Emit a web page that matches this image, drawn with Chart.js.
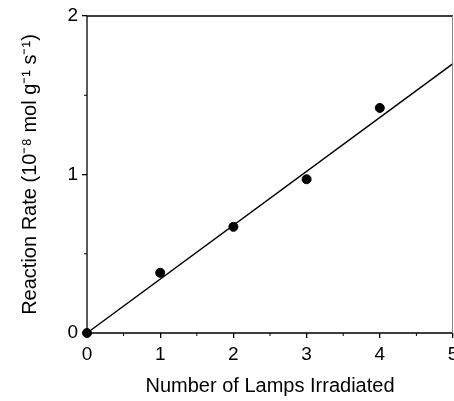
<!DOCTYPE html>
<html>
<head>
<meta charset="utf-8">
<script src="https://cdn.jsdelivr.net/npm/chart.js@4"></script>
<style>
  html, body { margin: 0; padding: 0; background: #fff; }
  #wrap { width: 454px; height: 401px; }
</style>
</head>
<body>
<div id="wrap"><canvas id="myChart" width="454" height="401"></canvas></div>
<script>
// data
const lamps = [0, 1, 2, 3, 4];
const rates = [0, 0.38, 0.67, 0.97, 1.42];
const fitX = [0, 5];
const fitY = [0, 1.70];
const xTitle = 'Number of Lamps Irradiated';
const yTitle = 'Reaction Rate (10\u207B\u2078 mol g\u207B\u00B9 s\u207B\u00B9)';

const font = 'Liberation Sans, Arial, Helvetica, sans-serif';

// minor ticks + frame
const framePlugin = {
  id: 'frame',
  afterDraw(chart) {
    const ctx = chart.ctx;
    const a = chart.chartArea;
    const xs = chart.scales.x, ys = chart.scales.y;
    ctx.save();
    ctx.strokeStyle = '#000';
    ctx.lineWidth = 1.3;
    ctx.beginPath();
    ctx.moveTo(a.left, a.bottom); ctx.lineTo(a.right, a.bottom);
    ctx.moveTo(a.left, a.bottom); ctx.lineTo(a.left, a.top);
    ctx.moveTo(a.left, a.top); ctx.lineTo(a.right, a.top);
    ctx.stroke();
    ctx.strokeStyle = '#888';
    ctx.lineWidth = 1;
    ctx.beginPath();
    ctx.moveTo(a.right - 0.5, a.top); ctx.lineTo(a.right - 0.5, a.bottom);
    ctx.stroke();
    ctx.strokeStyle = '#000';
    ctx.beginPath();
    for (let v = 0.5; v < 5; v += 1) {
      const px = xs.getPixelForValue(v);
      ctx.moveTo(px, a.bottom); ctx.lineTo(px, a.bottom + 3);
    }
    for (let v = 0.5; v < 2; v += 1) {
      const py = ys.getPixelForValue(v);
      ctx.moveTo(a.left, py); ctx.lineTo(a.left - 3, py);
    }
    ctx.stroke();
    ctx.restore();
  }
};

const config = {
  data: {
    datasets: [{
      type: 'line',
      data: fitX.map((x, i) => ({x: x, y: fitY[i]})),
      borderColor: '#000',
      borderWidth: 1.5,
      pointRadius: 0,
      clip: false
    }, {
      type: 'scatter',
      data: lamps.map((x, i) => ({x: x, y: rates[i]})),
      backgroundColor: '#000',
      borderColor: '#000',
      pointRadius: 4.5,
      clip: false
    }]
  },
  options: {
    responsive: false,
    animation: false,
    events: [],
    layout: { autoPadding: false, padding: { top: 16, right: 1, left: 0, bottom: 0 } },
    plugins: { legend: { display: false }, tooltip: { enabled: false } },
    scales: {
      x: {
        type: 'linear', min: 0, max: 5,
        ticks: { stepSize: 1, color: '#000', padding: 5, font: { family: font, size: 19 } },
        grid: { drawOnChartArea: false, color: '#000', tickLength: 5, lineWidth: 1.3 },
        border: { display: false },
        title: { display: true, text: xTitle, color: '#000', font: { family: font, size: 20 }, padding: { top: 6, bottom: 3 } },
        afterFit(s) { s.height = 68; s.paddingLeft = 0; s.paddingRight = 0; }
      },
      y: {
        min: 0, max: 2,
        ticks: { stepSize: 1, color: '#000', padding: 4, font: { family: font, size: 19 } },
        grid: { drawOnChartArea: false, color: '#000', tickLength: 5, lineWidth: 1.3 },
        border: { display: false },
        title: { display: true, text: yTitle, color: '#000', font: { family: font, size: 20 }, padding: { top: 18, bottom: 4 } },
        afterFit(s) { s.width = 87; }
      }
    }
  },
  plugins: [framePlugin]
};

const myChart = new Chart(document.getElementById('myChart'), config);
</script>
</body>
</html>
